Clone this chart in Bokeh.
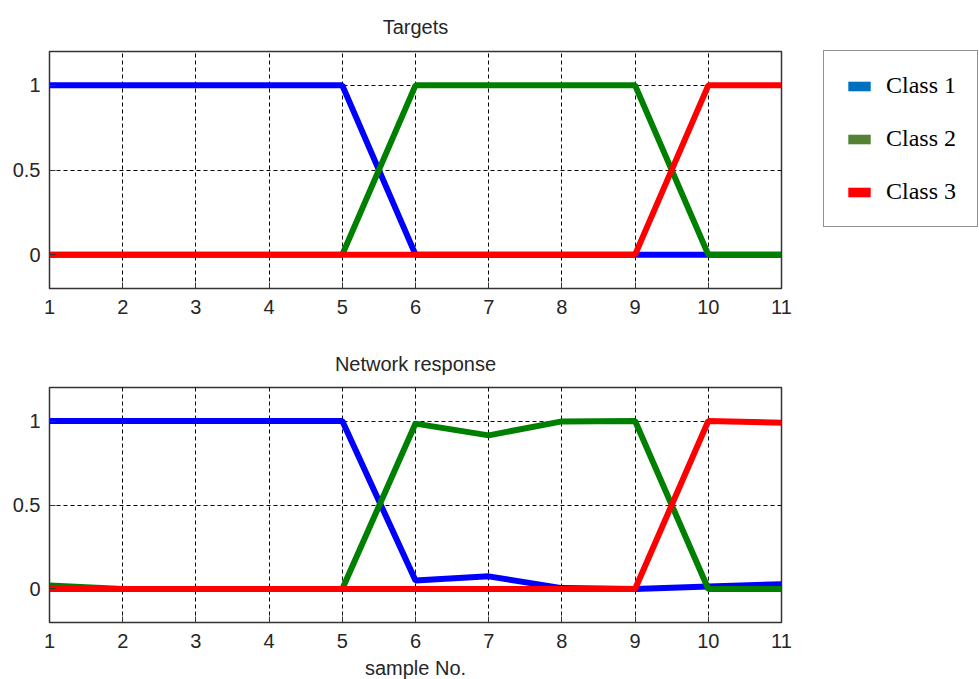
from bokeh.plotting import figure
from bokeh.models import (FixedTicker, Legend, LegendItem, Range1d)
from bokeh.layouts import column
from bokeh.embed import file_html
from bokeh.resources import INLINE

# ---- data ----
samples = [1, 2, 3, 4, 5, 6, 7, 8, 9, 10, 11]
target_class1 = [1, 1, 1, 1, 1, 0, 0, 0, 0, 0, 0]
target_class2 = [0, 0, 0, 0, 0, 1, 1, 1, 1, 0, 0]
target_class3 = [0, 0, 0, 0, 0, 0, 0, 0, 0, 1, 1]
resp_class1 = [1, 1, 1, 1, 1, 0.05, 0.075, 0.005, 0, 0.014, 0.028]
resp_class2 = [0.02, 0, 0, 0, 0, 0.985, 0.915, 0.998, 1, 0, 0]
resp_class3 = [0, 0, 0, 0, 0, 0, 0, 0, 0, 1, 0.99]
x_ticks = [1, 2, 3, 4, 5, 6, 7, 8, 9, 10, 11]
y_ticks = [0, 0.5, 1]
y_tick_labels = ["0", "0.5", "1"]
class_names = ["Class 1", "Class 2", "Class 3"]
line_colors = ["#0000FF", "#008000", "#FF0000"]
legend_colors = ["#0070C0", "#548235", "#FF0000"]

FONT = "Liberation Sans"
TXT = "#262626"


def make_fig(title, frame_h, top_border, bottom_border, title_standoff):
    p = figure(frame_width=732, frame_height=frame_h, output_backend="svg", toolbar_location=None,
               x_range=Range1d(1, 11), y_range=Range1d(-0.2, 1.2),
               min_border_left=49, min_border_right=197,
               min_border_top=top_border, min_border_bottom=bottom_border,
               title=title)
    p.title.align = "center"
    p.title.text_font = FONT
    p.title.text_font_size = "20px"
    p.title.text_font_style = "normal"
    p.title.text_color = TXT
    p.title.standoff = title_standoff
    p.outline_line_color = "#333333"
    p.outline_line_width = 1.5
    p.xaxis.ticker = FixedTicker(ticks=x_ticks)
    p.yaxis.ticker = FixedTicker(ticks=y_ticks)
    p.yaxis.major_label_overrides = {t: l for t, l in zip(y_ticks, y_tick_labels)}
    for ax in p.xaxis + p.yaxis:
        ax.major_tick_in = 6
        ax.major_tick_out = 0
        ax.minor_tick_in = 0
        ax.minor_tick_out = 0
        ax.axis_line_color = "#333333"
        ax.major_tick_line_color = "#333333"
        ax.major_label_text_font = FONT
        ax.major_label_text_font_size = "20px"
        ax.major_label_text_color = TXT
    p.xaxis.major_label_standoff = 11
    p.yaxis.major_label_standoff = 9
    p.xgrid.ticker = FixedTicker(ticks=x_ticks)
    p.ygrid.ticker = FixedTicker(ticks=y_ticks)
    for g in (p.xgrid, p.ygrid):
        g.grid_line_color = "black"
        g.grid_line_dash = "4 3"
        g.grid_line_width = 1
    return p


p1 = make_fig("Targets", 237, 51, 50, 27)
for ys, c in zip([target_class1, target_class2, target_class3], line_colors):
    p1.line(samples, ys, line_color=c, line_width=6)

items = []
for name, c in zip(class_names, legend_colors):
    # off-screen swatch renderer used only for the legend entry
    r = p1.quad(left=[-10], right=[-9], top=[-10], bottom=[-9], fill_color=c, line_color=None)
    items.append(LegendItem(label=name, renderers=[r]))
legend = Legend(items=items, location=(42, 61), margin=0, padding=21, spacing=26,
                glyph_width=28, glyph_height=12, label_standoff=13,
                label_text_font="Liberation Serif", label_text_font_size="24px",
                label_text_color="black", label_height=20,
                border_line_color="#222222", border_line_width=1.5,
                background_fill_color="white")
p1.add_layout(legend, "right")

p2 = make_fig("Network response", 235, 49, 55, 25)
for ys, c in zip([resp_class1, resp_class2, resp_class3], line_colors):
    p2.line(samples, ys, line_color=c, line_width=6)
ax = p2.below[0]
ax.axis_label = "sample No."
ax.axis_label_text_font = FONT
ax.axis_label_text_font_size = "20px"
ax.axis_label_text_font_style = "normal"
ax.axis_label_text_color = TXT
ax.axis_label_standoff = 6

layout = column(p1, p2, spacing=0)
open("out.html", "w").write(file_html(layout, INLINE))
